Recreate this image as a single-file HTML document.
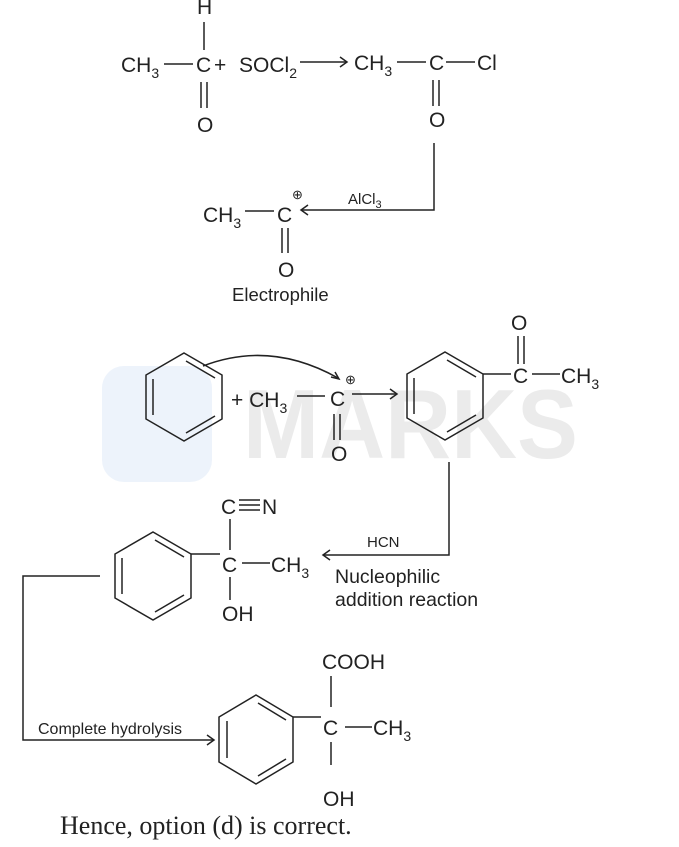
<!DOCTYPE html>
<html><head><style>
body{margin:0;background:#fff}
svg{display:block}
text{font-family:"Liberation Sans",sans-serif;fill:#222}
</style></head><body>
<svg width="679" height="847" viewBox="0 0 679 847" xmlns="http://www.w3.org/2000/svg">
<!-- watermark -->
<rect x="102" y="366" width="110" height="116" rx="22" fill="#edf3fb"/>
<text x="243" y="458" font-size="98" font-weight="bold" style="fill:#ebebeb" textLength="335" lengthAdjust="spacingAndGlyphs">MARKS</text>

<g font-size="21">
<!-- Row 1 -->
<text x="197" y="14">H</text>
<text x="121" y="72">CH<tspan font-size="14" dy="6">3</tspan></text>
<text x="196" y="72">C</text>
<text x="214" y="72">+</text>
<text x="239" y="72">SOCl<tspan font-size="14" dy="6">2</tspan></text>
<text x="197" y="132">O</text>
<text x="354" y="70">CH<tspan font-size="14" dy="6">3</tspan></text>
<text x="429" y="70">C</text>
<text x="477" y="70">Cl</text>
<text x="429" y="127">O</text>
<text x="203" y="222">CH<tspan font-size="14" dy="6">3</tspan></text>
<text x="277" y="222">C</text>
<text x="278" y="277">O</text>
<!-- Row 2 -->
<text x="231" y="407">+ CH<tspan font-size="14" dy="6">3</tspan></text>
<text x="330" y="406">C</text>
<text x="331" y="461">O</text>
<text x="513" y="383">C</text>
<text x="511" y="330">O</text>
<text x="561" y="383">CH<tspan font-size="14" dy="6">3</tspan></text>
<!-- Row 3 -->
<text x="221" y="514">C</text>
<text x="262" y="514">N</text>
<text x="222" y="572">C</text>
<text x="271" y="572">CH<tspan font-size="14" dy="6">3</tspan></text>
<text x="222" y="621">OH</text>
<!-- Row 4 -->
<text x="322" y="669">COOH</text>
<text x="323" y="735">C</text>
<text x="373" y="735">CH<tspan font-size="14" dy="6">3</tspan></text>
<text x="323" y="806">OH</text>
</g>
<g font-size="13">
<text x="292" y="199">⊕</text>
<text x="345" y="384">⊕</text>
</g>
<text x="348" y="204" font-size="15">AlCl<tspan font-size="11" dy="4">3</tspan></text>
<text x="232" y="301" font-size="18.5">Electrophile</text>
<text x="367" y="547" font-size="15">HCN</text>
<text x="335" y="583" font-size="19.5">Nucleophilic</text>
<text x="335" y="606" font-size="19.5">addition reaction</text>
<text x="38" y="734" font-size="16">Complete hydrolysis</text>
<text x="60" y="834" font-size="26" style="font-family:'Liberation Serif',serif">Hence, option (d) is correct.</text>

<g stroke="#222" stroke-width="1.5" fill="none">
<!-- Row 1 bonds -->
<line x1="204" y1="22" x2="204" y2="50"/>
<line x1="164" y1="64" x2="193" y2="64"/>
<line x1="201" y1="82" x2="201" y2="108"/><line x1="207" y1="82" x2="207" y2="108"/>
<line x1="300" y1="62" x2="346" y2="62"/><path d="M340,57 L347,62 L340,67"/>
<line x1="397" y1="62" x2="426" y2="62"/>
<line x1="446" y1="62" x2="475" y2="62"/>
<line x1="433" y1="80" x2="433" y2="106"/><line x1="439" y1="80" x2="439" y2="106"/>
<polyline points="434,143 434,210 302,210"/><path d="M308,205 L301,210 L308,215"/>
<line x1="245" y1="211" x2="274" y2="211"/>
<line x1="282" y1="228" x2="282" y2="253"/><line x1="288" y1="228" x2="288" y2="253"/>
<!-- benzene 1 -->
<polygon points="184,353 222,375 222,419 184,441 146,419 146,375"/>
<line x1="153" y1="379" x2="153" y2="415"/>
<line x1="186" y1="361" x2="215" y2="378"/>
<line x1="186" y1="433" x2="215" y2="416"/>
<path d="M203,366 Q270,340 338,378"/><path d="M331,377 L339,379 L335,372"/>
<line x1="297" y1="396" x2="325" y2="396"/>
<line x1="334" y1="414" x2="334" y2="440"/><line x1="340" y1="414" x2="340" y2="440"/>
<line x1="352" y1="394" x2="396" y2="394"/><path d="M390,389 L397,394 L390,399"/>
<!-- benzene 2 -->
<polygon points="445,352 483,374 483,418 445,440 407,418 407,374"/>
<line x1="414" y1="378" x2="414" y2="414"/>
<line x1="447" y1="360" x2="476" y2="377"/>
<line x1="447" y1="432" x2="476" y2="415"/>
<line x1="483" y1="374" x2="511" y2="374"/>
<line x1="518" y1="336" x2="518" y2="364"/><line x1="524" y1="336" x2="524" y2="364"/>
<line x1="532" y1="374" x2="560" y2="374"/>
<polyline points="449,462 449,555 324,555"/><path d="M330,550 L323,555 L330,560"/>
<!-- benzene 3 -->
<polygon points="153,532 191,554 191,598 153,620 115,598 115,554"/>
<line x1="122" y1="558" x2="122" y2="594"/>
<line x1="155" y1="540" x2="184" y2="557"/>
<line x1="155" y1="612" x2="184" y2="595"/>
<line x1="191" y1="554" x2="220" y2="554"/>
<line x1="230" y1="519" x2="230" y2="550"/>
<line x1="239" y1="500" x2="260" y2="500"/><line x1="239" y1="505" x2="260" y2="505"/><line x1="239" y1="510" x2="260" y2="510"/>
<line x1="242" y1="563" x2="270" y2="563"/>
<line x1="230" y1="577" x2="230" y2="600"/>
<polyline points="100,576 23,576 23,740 213,740"/><path d="M207,735 L214,740 L207,745"/>
<!-- benzene 4 -->
<polygon points="256,695 293,717 293,762 256,784 219,762 219,717"/>
<line x1="227" y1="721" x2="227" y2="758"/>
<line x1="258" y1="703" x2="286" y2="720"/>
<line x1="258" y1="776" x2="286" y2="759"/>
<line x1="293" y1="717" x2="321" y2="717"/>
<line x1="331" y1="676" x2="331" y2="707"/>
<line x1="345" y1="727" x2="372" y2="727"/>
<line x1="331" y1="742" x2="331" y2="765"/>
</g>
</svg>
</body></html>
